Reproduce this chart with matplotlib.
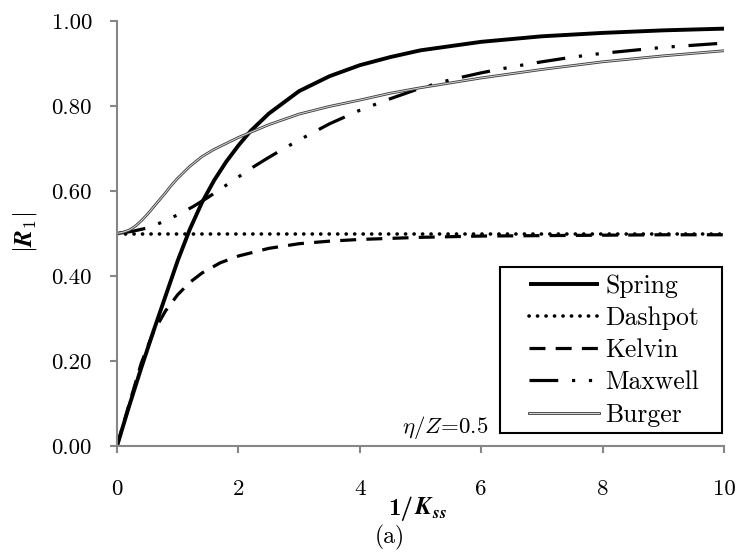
import matplotlib
matplotlib.use('Agg')
import matplotlib.pyplot as plt
from matplotlib.patches import Rectangle
from matplotlib.ticker import FormatStrFormatter

plt.rcParams['font.family'] = ['cmr10']
plt.rcParams['mathtext.fontset'] = 'cm'
plt.rcParams['axes.formatter.use_mathtext'] = True

# |R1| against 1/Kss for the five support models, eta/Z = 0.5
spring_x = [0, 0.2, 0.4, 0.6, 0.8, 1.0, 1.2, 1.4, 1.6, 1.8, 2.0, 2.2, 2.5,
            3.0, 3.5, 4.0, 4.5, 5.0, 6.0, 7.0, 8.0, 9.0, 10.0]
spring_y = [0, 0.094, 0.184, 0.270, 0.353, 0.436, 0.510, 0.573, 0.625, 0.669,
            0.707, 0.741, 0.782, 0.835, 0.870, 0.896, 0.915, 0.931, 0.951,
            0.964, 0.972, 0.978, 0.982]

dashpot_x = [0, 10.0]
dashpot_y = [0.5, 0.5]

kelvin_x = [0, 0.2, 0.4, 0.6, 0.8, 1.0, 1.2, 1.4, 1.7, 2.0, 2.5, 3.0, 3.5,
            4.0, 5.0, 6.0, 7.0, 8.0, 9.0, 10.0]
kelvin_y = [0, 0.098, 0.195, 0.268, 0.318, 0.356, 0.385, 0.407, 0.431, 0.447,
            0.465, 0.476, 0.482, 0.486, 0.491, 0.494, 0.495, 0.496, 0.497, 0.497]

maxwell_x = [0, 0.25, 0.5, 0.75, 1.0, 1.25, 1.5, 1.75, 2.0, 2.25, 2.5, 2.75,
             3.0, 3.5, 4.0, 4.5, 5.0, 5.5, 6.0, 6.5, 7.0, 7.5, 8.0, 8.5,
             9.0, 9.5, 10.0]
maxwell_y = [0.500, 0.505, 0.513, 0.527, 0.544, 0.563, 0.585, 0.609, 0.633,
             0.657, 0.679, 0.700, 0.720, 0.758, 0.790, 0.817, 0.842, 0.862,
             0.878, 0.892, 0.904, 0.915, 0.924, 0.931, 0.938, 0.943, 0.948]

burger_x = [0, 0.1, 0.2, 0.3, 0.4, 0.5, 0.6, 0.7, 0.8, 0.9, 1.0, 1.2, 1.4,
            1.6, 1.8, 2.0, 2.5, 3.0, 3.5, 4.0, 4.5, 5.0, 6.0, 7.0, 8.0,
            9.0, 10.0]
burger_y = [0.500, 0.503, 0.508, 0.517, 0.530, 0.545, 0.562, 0.579, 0.596,
            0.614, 0.630, 0.658, 0.681, 0.698, 0.712, 0.726, 0.756, 0.781,
            0.799, 0.814, 0.830, 0.843, 0.866, 0.886, 0.904, 0.918, 0.930]

x_ticks = [0, 2, 4, 6, 8, 10]
y_ticks = [0.0, 0.2, 0.4, 0.6, 0.8, 1.0]
labels = ['Spring', 'Dashpot', 'Kelvin', 'Maxwell', 'Burger']

W, H = 737, 558
fig = plt.figure(figsize=(W / 100, H / 100), dpi=100)
ax = fig.add_axes([117 / W, 112 / H, 607 / W, 425 / H])

l_spring, = ax.plot(spring_x, spring_y, color='black', lw=2.8,
                    solid_capstyle='butt')
l_dash, = ax.plot(dashpot_x, dashpot_y, color='black', lw=2.6,
                  dashes=(0.05, 2.3), dash_capstyle='round')
l_kelvin, = ax.plot(kelvin_x, kelvin_y, color='black', lw=2.3,
                    dashes=(5.0, 3.2))
l_maxwell, = ax.plot(maxwell_x, maxwell_y, color='black', lw=2.3,
                     dashes=(9.0, 4.3, 1.0, 4.3, 1.0, 4.3))
# Burger curve drawn as a double line: dark outer stroke, pale core
l_burger_a, = ax.plot(burger_x, burger_y, color='0.25', lw=2.0)
l_burger_b, = ax.plot(burger_x, burger_y, color='0.85', lw=0.7)

ax.set_xlim(0, 10)
ax.set_ylim(0, 1)
ax.set_xticks(x_ticks)
ax.set_yticks(y_ticks)
ax.yaxis.set_major_formatter(FormatStrFormatter('%.2f'))
ax.xaxis.set_major_formatter(FormatStrFormatter('%d'))

for side in ['top', 'right']:
    ax.spines[side].set_visible(False)
for side in ['left', 'bottom']:
    ax.spines[side].set_color('#868686')
    ax.spines[side].set_linewidth(1.5)
ax.tick_params(axis='both', direction='out', length=5, width=1.5,
               color='#868686', labelsize=16.5)
ax.tick_params(axis='y', pad=13)
ax.tick_params(axis='x', pad=19)

ax.text(0.611, 0.03, r'$\eta/Z$=0.5', transform=ax.transAxes,
        ha='right', va='baseline', fontsize=16.5)

# legend frame drawn separately so the side padding can be wider than top/bottom
x0, x1 = (500 - 117) / 607, (722 - 117) / 607
y0, y1 = (446 - 433) / 425, (446 - 267) / 425
ax.add_patch(Rectangle((x0, y0), x1 - x0, y1 - y0, transform=ax.transAxes,
                       facecolor='white', edgecolor='black', lw=1.5, zorder=4))

leg = ax.legend([l_spring, l_dash, l_kelvin, l_maxwell, (l_burger_a, l_burger_b)],
                labels, loc='upper left',
                bbox_to_anchor=((529 - 117) / 607, (446 - 274) / 425),
                borderaxespad=0, borderpad=0, fontsize=18.5, handlelength=2.72,
                handletextpad=0.25, labelspacing=0.33, frameon=False)
leg.set_zorder(5)

y_base = 1 - 515 / H
fig.text(413 / W, y_base, '1/', family='cmb10', ha='right', va='baseline',
         fontsize=18)
fig.text(414 / W, y_base, r'$\mathbfit{K}_{\mathbfit{ss}}$', ha='left',
         va='baseline', fontsize=18)
fig.text(390 / W, 1 - 537 / H, '(a)', ha='center', va='center', fontsize=17)
fig.text(25 / W, 1 - 232 / H, r'$|\mathbfit{R}_{1}|$', rotation=90,
         ha='center', va='center', fontsize=18)

fig.savefig('out.png', dpi=100)
